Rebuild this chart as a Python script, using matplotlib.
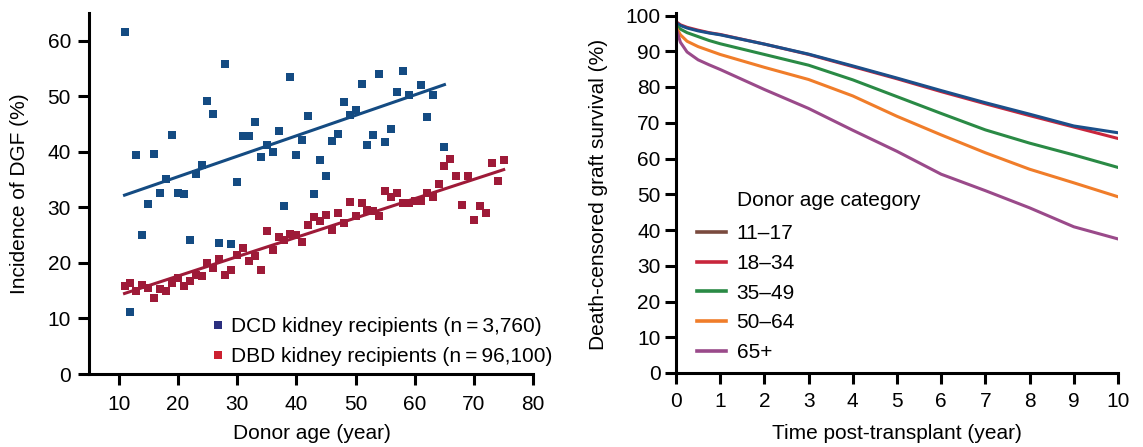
import matplotlib
matplotlib.use("Agg")
import matplotlib.pyplot as plt
from matplotlib.lines import Line2D

plt.rcParams['font.family'] = ['Liberation Sans', 'DejaVu Sans']
FS = 15
plt.rcParams['font.size'] = FS

# ---------------- Left panel data ----------------
dcd_age = [11, 12, 13, 14, 15, 16, 17, 18, 19, 20, 21, 22, 23, 24, 25, 26, 27, 28, 29, 30,
           31, 32, 33, 34, 35, 36, 37, 38, 39, 40, 41, 42, 43, 44, 45, 46, 47, 48, 49, 50,
           51, 52, 53, 54, 55, 56, 57, 58, 59, 61, 62, 63, 65]
dcd_dgf = [61.5, 11.2, 39.5, 25.0, 30.6, 39.6, 32.6, 35.1, 43.1, 32.6, 32.4, 24.1, 36.0, 37.7,
           49.2, 46.8, 23.6, 55.9, 23.4, 34.6, 42.9, 42.9, 45.4, 39.1, 41.3, 40.0, 43.8, 30.3,
           53.4, 39.5, 42.2, 46.5, 32.4, 38.6, 35.7, 42.0, 43.3, 48.9, 46.7, 47.6, 52.2, 41.3,
           43.1, 54.0, 41.7, 44.2, 50.7, 54.5, 50.2, 52.0, 46.2, 50.2, 40.9]
dbd_age = list(range(11, 76))
dbd_dgf = [15.8, 16.4, 14.9, 16.0, 15.5, 13.7, 15.3, 14.9, 16.4, 17.2, 15.8, 16.7, 17.8, 17.6,
           20.0, 19.0, 20.7, 17.8, 18.8, 21.4, 22.6, 20.3, 21.2, 18.8, 25.7, 22.4, 24.7, 24.1,
           25.2, 25.0, 23.8, 26.9, 28.3, 27.6, 28.6, 26.0, 29.0, 27.1, 31.0, 28.5, 30.7, 29.6,
           29.4, 28.5, 32.9, 31.8, 32.5, 30.7, 30.7, 31.2, 31.2, 32.6, 31.8, 34.3, 37.5, 38.8,
           35.7, 30.5, 35.7, 27.8, 30.3, 29.0, 38.0, 34.8, 38.6]
dcd_fit_age = [11, 65]
dcd_fit_dgf = [32.2, 52.1]
dbd_fit_age = [11, 75]
dbd_fit_dgf = [14.5, 36.8]
left_xticks = [10, 20, 30, 40, 50, 60, 70, 80]
left_yticks = [0, 10, 20, 30, 40, 50, 60]
scatter_labels = ["DCD kidney recipients (n\u2009=\u20093,760)",
                  "DBD kidney recipients (n\u2009=\u200996,100)"]

# ---------------- Right panel data ----------------
time_yr = [0, 0.1, 0.25, 0.5, 0.75, 1, 2, 3, 4, 5, 6, 7, 8, 9, 10]
surv_11_17 = [98.0, 97.2, 96.5, 95.7, 95.1, 94.6, 92.0, 89.2, 85.9, 82.5, 79.0, 75.6, 72.4, 69.1, 67.2]
surv_18_34 = [98.3, 97.4, 96.7, 95.9, 95.2, 94.7, 92.0, 89.1, 85.7, 82.3, 78.7, 75.3, 72.0, 68.8, 65.6]
surv_35_49 = [97.3, 96.2, 95.2, 94.1, 93.0, 92.1, 89.1, 86.1, 82.0, 77.3, 72.6, 68.0, 64.3, 61.0, 57.5]
surv_50_64 = [96.8, 94.6, 92.8, 91.3, 90.2, 89.1, 85.5, 82.1, 77.5, 71.8, 66.6, 61.6, 57.0, 53.2, 49.3]
surv_65p = [96.5, 92.5, 89.8, 87.6, 86.2, 84.9, 79.3, 74.0, 67.9, 62.0, 55.6, 51.0, 46.2, 40.9, 37.5]
age_cats = ["11\u201317", "18\u201334", "35\u201349", "50\u201364", "65+"]
legend_title = "Donor age category"
right_xticks = list(range(0, 11))
right_yticks = list(range(0, 101, 10))

# ---------------- Styles ----------------
c_dcd = "#144B82"
c_dbd = "#9E1A38"
c_dcd_leg = "#2B2F7F"
c_dbd_leg = "#CC2030"
line_cols = ["#1B4F8A", "#C8263C", "#2A8A45", "#F07D2A", "#9A4A8A"]
leg_cols = ["#7A4A3E", "#C8263C", "#2A8A45", "#F07D2A", "#9A4A8A"]
SW = 2.2

fig = plt.figure(figsize=(11.43, 4.47), dpi=100)
W, H = 1143, 447


def style(ax):
    for s in ["top", "right"]:
        ax.spines[s].set_visible(False)
    for s in ["left", "bottom"]:
        ax.spines[s].set_linewidth(SW)
    ax.tick_params(width=SW, length=8, color="black", labelsize=FS)


# Left axes
axL = fig.add_axes([89 / W, 1 - 374 / H, (533.3 - 89) / W, (374 - 13) / H])
style(axL)
axL.scatter(dcd_age, dcd_dgf, marker="s", s=26, color=c_dcd, linewidths=0, zorder=3)
axL.scatter(dbd_age, dbd_dgf, marker="s", s=26, color=c_dbd, linewidths=0, zorder=3)
axL.plot(dcd_fit_age, dcd_fit_dgf, color=c_dcd, lw=2.2, zorder=2)
axL.plot(dbd_fit_age, dbd_fit_dgf, color=c_dbd, lw=2.2, zorder=2)
axL.set_xlim(5, 80)
axL.set_ylim(0, 65)
axL.set_xticks(left_xticks)
axL.set_yticks(left_yticks)
axL.tick_params(axis="x", pad=7)
axL.tick_params(axis="y", pad=5)
axL.set_xlabel("Donor age (year)")
axL.set_ylabel("Incidence of DGF (%)")
axL.xaxis.set_label_coords((312 - 89) / (533.3 - 89), (374 - 424) / 361)
axL.yaxis.set_label_coords((29 - 89) / (533.3 - 89), 0.5)
hL = [Line2D([], [], marker="s", ls="none", markersize=5.5, color=c_dcd_leg, markeredgewidth=0),
      Line2D([], [], marker="s", ls="none", markersize=5.5, color=c_dbd_leg, markeredgewidth=0)]
axL.legend(hL, scatter_labels, loc="upper left",
           bbox_to_anchor=((212 - 89) / (533.3 - 89), (374 - 317) / 361),
           frameon=False, handlelength=0.6, handletextpad=0.3, labelspacing=0.55,
           fontsize=FS, borderaxespad=0, borderpad=0)

# Right axes
axR = fig.add_axes([676 / W, 1 - 373 / H, (1118 - 676) / W, (373 - 15.5) / H])
style(axR)
series = [surv_11_17, surv_18_34, surv_35_49, surv_50_64, surv_65p]
order = [1, 0, 2, 3, 4]
for i in order:
    axR.plot(time_yr, series[i], color=line_cols[i], lw=2.2, solid_joinstyle="round")
axR.set_xlim(0, 10)
axR.set_ylim(0, 100)
axR.spines["left"].set_bounds(0, 100.6)
axR.set_xticks(right_xticks)
axR.set_yticks(right_yticks)
axR.tick_params(axis="x", pad=6)
axR.tick_params(axis="y", pad=3)
axR.set_xlabel("Time post-transplant (year)")
axR.set_ylabel("Death-censored graft survival (%)")
axR.xaxis.set_label_coords((897 - 676) / 442, (373 - 424) / 357.5)
axR.yaxis.set_label_coords((608 - 676) / 442, 0.5)
hR = [Line2D([], [], color=c, lw=2.6) for c in leg_cols]
axR.legend(hR, age_cats, loc="upper left",
           bbox_to_anchor=((697 - 676) / 442, (373 - 224) / 357.5), frameon=False,
           handlelength=1.4, handletextpad=0.5, labelspacing=0.52,
           fontsize=FS, borderaxespad=0, borderpad=0)
axR.text((737 - 676) / 442, (373 - 200) / 357.5, legend_title, transform=axR.transAxes,
         ha="left", va="center", fontsize=FS)

fig.savefig("out.png", dpi=100)
